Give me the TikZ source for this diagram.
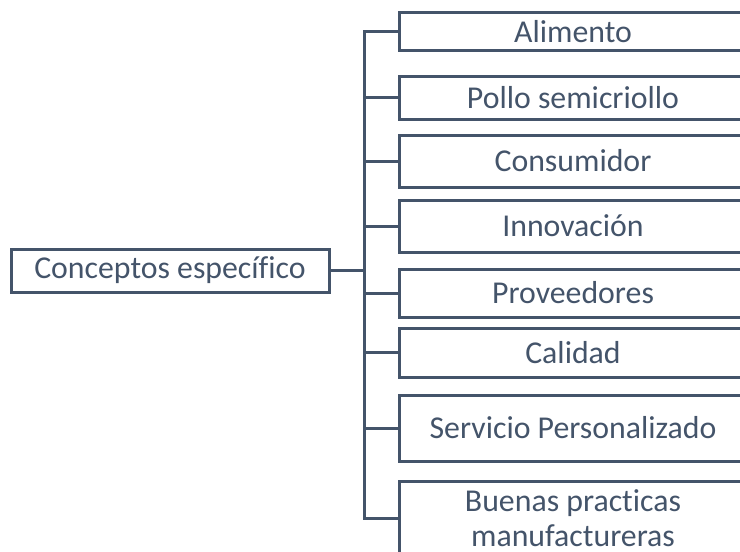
\documentclass[tikz,border=0pt]{standalone}
\usepackage{fontspec}
\setmainfont{Carlito}[RawFeature={-liga}]
\definecolor{slate}{HTML}{44546A}
\begin{document}
\begin{tikzpicture}[x=1pt,y=-1pt,
  box/.style={draw=slate,line width=3pt,text=slate,inner sep=0pt,
    font=\fontsize{31.8}{35}\selectfont,align=center},
  child/.style={box,minimum width=348pt},
  link/.style={draw=slate,line width=3pt}]
\useasboundingbox (0,0) rectangle (740,552);
\begin{scope}
\clip (0,0) rectangle (740,552);
\node[box,minimum width=318pt,minimum height=43pt] (main) at (170,270.5) {Conceptos específico};
\node[child,minimum height=38pt] (c1) at (573,31.5) {Alimento};
\node[child,minimum height=43pt] (c2) at (573,97.5) {Pollo semicriollo};
\node[child,minimum height=52pt] (c3) at (573,161) {Consumidor};
\node[child,minimum height=52pt] (c4) at (573,226) {Innovación};
\node[child,minimum height=48pt] (c5) at (573,293) {Proveedores};
\node[child,minimum height=49pt] (c6) at (573,352.5) {Calidad};
\node[child,minimum height=66pt] (c7) at (573,428) {Servicio Personalizado};
\node[child,minimum height=74pt] (c8) at (573,518) {Buenas practicas\\manufactureras};
\coordinate (bus) at (364,270.5);
\draw[link] (main.east) -- (bus);
\foreach \c in {c1,c2,c3,c4,c5,c6,c7,c8}
  \draw[link,line cap=rect] (bus) |- (\c.west);
\end{scope}
\end{tikzpicture}
\end{document}
